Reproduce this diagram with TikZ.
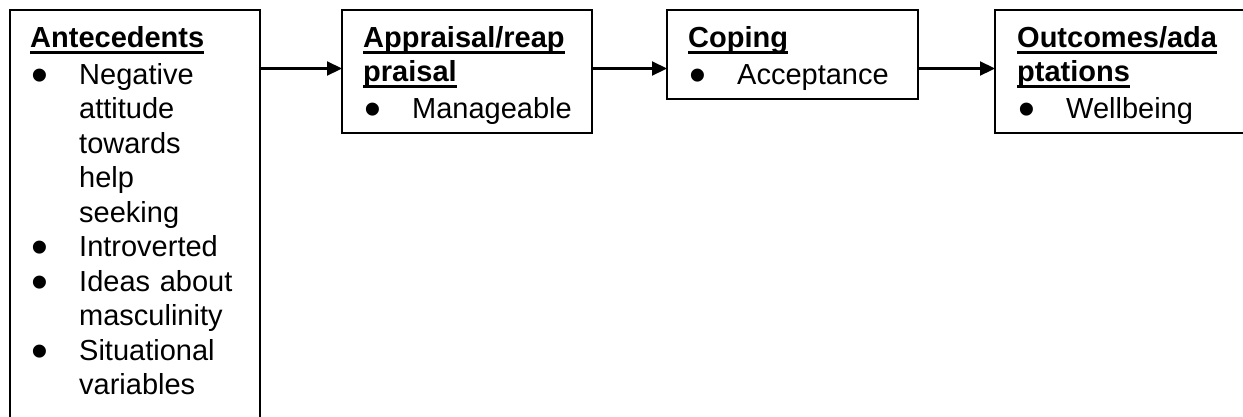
\documentclass[tikz,border=0pt]{standalone}
\usepackage{fontspec}
\setmainfont{Liberation Sans}
\usetikzlibrary{arrows.meta,calc}

% underlined bold heading line with a fixed-depth rule
\newsavebox\hdbox
\newcommand\hdline[1]{\leavevmode\sbox\hdbox{\bfseries #1}\rlap{\rule[-6.5pt]{\wd\hdbox}{3pt}}\usebox\hdbox}
% large bullet with hanging indent
\newcommand\bulmark{\leavevmode\makebox[49pt][l]{\hspace*{1.5pt}\smash{\raisebox{-7pt}{\fontsize{48}{0}\selectfont\textbullet}}}}
\newcommand\contind{\leavevmode\hspace*{49pt}}

\begin{document}
\begin{tikzpicture}[x=1pt,y=-1pt,
  box/.style={draw,line width=2.2pt,rectangle,anchor=north west,inner sep=0pt,outer sep=0pt},
  txt/.style={anchor=base west,inner sep=0pt,text width=260pt,align=left,
              font=\fontsize{29}{34.5}\selectfont},
  link/.style={line width=2.2pt,-{Triangle[length=15pt,width=14pt]}}]
\useasboundingbox[fill=white] (0,0) rectangle (1243,416);

% boxes
\node[box,minimum width=250pt,minimum height=440pt] (ante) at (10,10) {};
\node[box,minimum width=250pt,minimum height=123pt] (appr) at (342,10) {};
\node[box,minimum width=251pt,minimum height=89pt]  (cope) at (667,10) {};
\node[box,minimum width=251pt,minimum height=123pt] (outc) at (995,10) {};

% contents
\node[txt] (anteT) at ($(ante.north west)+(20,37)$) {%
  \hdline{Antecedents}\\[2.5pt]
  \bulmark Negative\\
  \contind attitude\\
  \contind towards\\
  \contind help\\
  \contind seeking\\
  \bulmark Introverted\\
  \bulmark Ideas about\\
  \contind masculinity\\
  \bulmark Situational\\
  \contind variables};
\node[txt] (apprT) at ($(appr.north west)+(21,37)$) {%
  \hdline{Appraisal/reap}\\
  \hdline{praisal}\\[2.5pt]
  \bulmark Manageable};
\node[txt] (copeT) at ($(cope.north west)+(21,37)$) {%
  \hdline{Coping}\\[2.5pt]
  \bulmark Acceptance};
\node[txt] (outcT) at ($(outc.north west)+(22,37)$) {%
  \hdline{Outcomes/ada}\\
  \hdline{ptations}\\[2.5pt]
  \bulmark Wellbeing};

% connectors
\draw[link] ($(ante.north east)+(0,58.5)$) -- ($(appr.north west)+(0,58.5)$);
\draw[link] ($(appr.north east)+(0,58.5)$) -- ($(cope.north west)+(0,58.5)$);
\draw[link] ($(cope.north east)+(0,58.5)$) -- ($(outc.north west)+(0,58.5)$);
\end{tikzpicture}
\end{document}
